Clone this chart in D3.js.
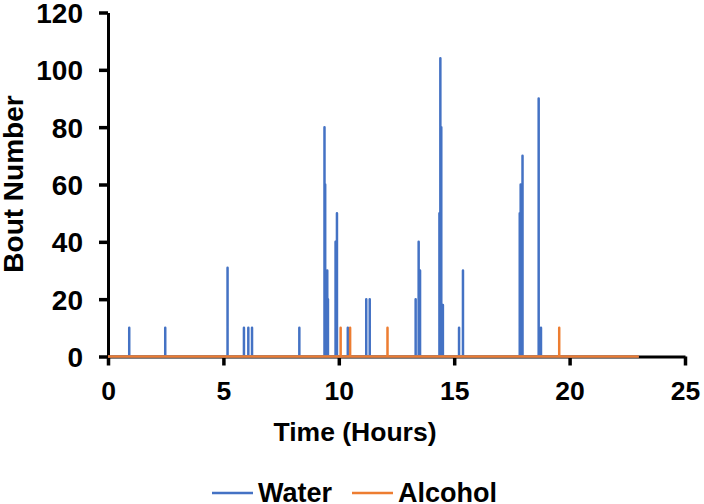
<!DOCTYPE html>
<html><head><meta charset="utf-8">
<script src="https://cdn.jsdelivr.net/npm/d3@7"></script>
<style>body{margin:0;background:#fff}svg{display:block}text{font-family:"Liberation Sans",Arial,sans-serif;font-weight:bold;fill:#000}</style>
</head><body><svg id="c" width="704" height="504"></svg>
<script>
// Data (hours, bout number)
const waterTimes  = [0.92, 2.48, 5.18, 5.89, 6.08, 6.24, 8.29, 9.38, 9.41, 9.50, 9.53, 9.86, 9.92, 10.39, 11.19, 11.34, 13.33, 13.46, 13.52, 14.36, 14.40, 14.44, 14.51, 15.21, 15.38, 17.84, 17.88, 17.96, 18.66, 18.76];
const waterValues = [10,   10,   31,   10,   10,   10,   10,   80,   60,   30,   20,   40,   50,   10,    20,    20,    20,    40,    30,    50,    104,   80,    18,    10,    30,    50,    60,    70,    90,    10];
const alcoholTimes  = [10.08, 10.49, 12.11, 19.55];
const alcoholValues = [10, 10, 10, 10];
const seriesStart = 0, seriesEnd = 23;
const xTicks = [0, 5, 10, 15, 20, 25];
const yTicks = [0, 20, 40, 60, 80, 100, 120];
const seriesNames = ["Water", "Alcohol"];
const seriesColors = ["#4472C4", "#ED7D31"];

const svg = d3.select("#c");
const x = d3.scaleLinear().domain([0, 25]).range([108, 685]);
const y = d3.scaleLinear().domain([0, 120]).range([356.5, 12.5]);

function spikes(times, values) {
  const pts = [[seriesStart, 0]];
  times.forEach((t, i) => { pts.push([t, 0], [t, values[i]], [t, 0]); });
  pts.push([seriesEnd, 0]);
  return pts;
}

const gx = svg.append("g").attr("transform", `translate(0,${y(0)})`)
  .call(d3.axisBottom(x).tickValues(xTicks).tickSize(9).tickSizeOuter(0).tickPadding(16));
const gy = svg.append("g").attr("transform", `translate(${x(0)},0)`)
  .call(d3.axisLeft(y).tickValues(yTicks).tickSize(9).tickSizeOuter(0).tickPadding(16));
[gx, gy].forEach(g => {
  g.select(".domain").attr("stroke", "#000").attr("stroke-width", 3);
  g.selectAll(".tick line").attr("stroke", "#000").attr("stroke-width", 3.5);
  g.selectAll(".tick text").style("font-family", '"Liberation Sans",Arial,sans-serif').style("font-weight", "bold").attr("fill", "#000");
});
gx.selectAll(".tick text").style("font-size", "26.5px");
gy.selectAll(".tick text").style("font-size", "28px").attr("dy", "0.36em");

const line = d3.line().x(d => x(d[0])).y(d => y(d[1]));
svg.append("path").datum(spikes(waterTimes, waterValues))
  .attr("d", line).attr("fill", "none").attr("stroke", seriesColors[0]).attr("stroke-width", 2.5).attr("stroke-linejoin", "round");
svg.append("path").datum(spikes(alcoholTimes, alcoholValues))
  .attr("d", line).attr("fill", "none").attr("stroke", seriesColors[1]).attr("stroke-width", 2.5).attr("stroke-linejoin", "round");

// Axis titles
svg.append("text").attr("x", 355).attr("y", 441).attr("text-anchor", "middle").style("font-size", "26.5px").text("Time (Hours)");
svg.append("text").attr("transform", "translate(23,184) rotate(-90)").attr("text-anchor", "middle").style("font-size", "28px").text("Bout Number");

// Legend
const leg = [{x1: 212, tx: 258}, {x1: 352, tx: 398}];
seriesNames.forEach((n, i) => {
  svg.append("line").attr("x1", leg[i].x1).attr("x2", leg[i].x1 + 41).attr("y1", 493).attr("y2", 493)
    .attr("stroke", seriesColors[i]).attr("stroke-width", 2.5);
  svg.append("text").attr("x", leg[i].tx).attr("y", 502).style("font-size", "27px").text(n);
});
</script></body></html>
